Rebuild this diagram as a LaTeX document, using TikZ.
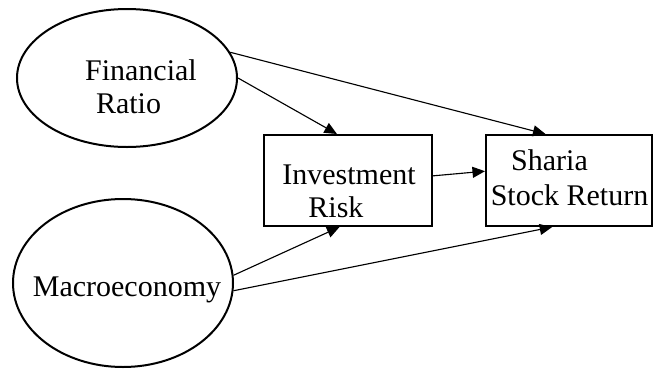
\documentclass[tikz,border=0pt]{standalone}
\usepackage{fontspec}
\setmainfont{Liberation Serif}
\usetikzlibrary{calc,shapes.geometric,arrows.meta}

\begin{document}
\begin{tikzpicture}[x=0.4pt, y=-0.4pt, >={Triangle[length=5pt,width=4.4pt]},
  var/.style={draw, ellipse, line width=0.8pt, inner sep=0pt},
  box/.style={draw, rectangle, line width=0.8pt, inner sep=0pt},
  txt/.style={anchor=base, align=center, inner sep=0pt, font=\fontsize{12}{13}\selectfont},
  link/.style={->, line width=0.45pt}]
  \useasboundingbox (0,0) rectangle (655,368);

  % variables
  \node[var, minimum width=88pt, minimum height=55.2pt] (fin) at (127,78) {};
  \node[var, minimum width=88pt, minimum height=67.2pt] (mac) at (123,283) {};
  \node[box, minimum width=67.2pt, minimum height=36.4pt] (risk) at (348,180.5) {};
  \node[box, minimum width=66.4pt, minimum height=36.4pt] (ret) at (569,180.5) {};

  \node[txt] (fintext) at (128.5,113) {\hspace*{0.83em}Financial\\Ratio};
  \node[txt] (mactext) at (127,296) {Macroeconomy};
  \node[txt] (risktext) at (349,217) {Investment\\Risk\hspace*{0.87em}};
  \node[txt, font=\fontsize{12}{14}\selectfont] (rettext) at (569.5,205) {Sharia\hspace*{1.33em}\\Stock Return};

  % arrows
  \draw[link] (fin.14) -- ($(ret.north west)!0.36!(ret.north east)$);
  \draw[link] (fin.east) -- ($(risk.north west)!0.435!(risk.north east)$);
  \draw[link] ($(risk.north east)!0.45!(risk.south east)$) -- ($(ret.north west)!0.4!(ret.south west)$);
  \draw[link] (mac.4) -- ($(risk.south west)!0.45!(risk.south east)$);
  \draw[link] (mac.-4) -- ($(ret.south west)!0.4!(ret.south east)$);
\end{tikzpicture}
\end{document}
